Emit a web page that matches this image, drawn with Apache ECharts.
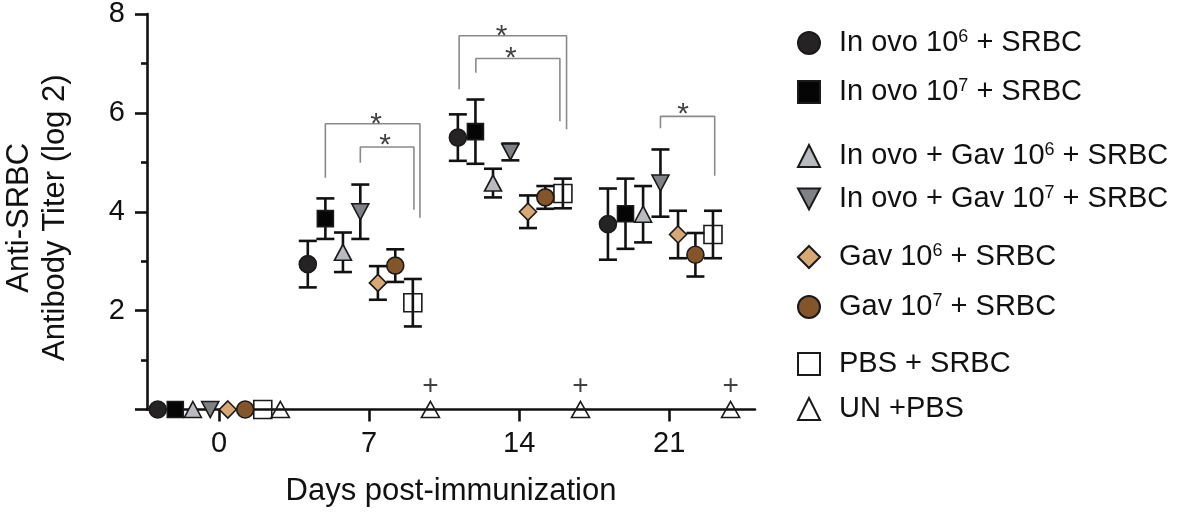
<!DOCTYPE html>
<html>
<head>
<meta charset="utf-8">
<script src="https://cdn.jsdelivr.net/npm/echarts@6/dist/echarts.min.js"></script>
<style>
html,body{margin:0;padding:0;background:#fff;}
#chart{width:1181px;height:519px;}
</style>
</head>
<body>
<div id="chart"></div>
<script>
// ---------- data ----------
const days = [0, 7, 14, 21];
const xTickValues = [0, 7, 14, 21];
const groupNames = [
  'In ovo 10^6 + SRBC',
  'In ovo 10^7 + SRBC',
  'In ovo + Gav 10^6 + SRBC',
  'In ovo + Gav 10^7 + SRBC',
  'Gav 10^6 + SRBC',
  'Gav 10^7 + SRBC',
  'PBS + SRBC',
  'UN +PBS'
];
const inOvo6Mean    = [0, 2.94, 5.50, 3.75];
const inOvo6Err     = [0, 0.47, 0.47, 0.72];
const inOvo7Mean    = [0, 3.86, 5.62, 3.96];
const inOvo7Err     = [0, 0.41, 0.65, 0.71];
const inOvoGav6Mean = [0, 3.18, 4.58, 3.95];
const inOvoGav6Err  = [0, 0.40, 0.29, 0.57];
const inOvoGav7Mean = [0, 4.00, 5.21, 4.58];
const inOvoGav7Err  = [0, 0.55, 0.17, 0.68];
const gav6Mean      = [0, 2.56, 4.00, 3.54];
const gav6Err       = [0, 0.34, 0.33, 0.48];
const gav7Mean      = [0, 2.91, 4.29, 3.13];
const gav7Err       = [0, 0.33, 0.23, 0.44];
const pbsMean       = [0, 2.16, 4.37, 3.54];
const pbsErr        = [0, 0.48, 0.30, 0.48];
const unMean        = [0, 0, 0, 0];
const unErr         = [0, 0, 0, 0];

// significance brackets [day, titer]
const bracket7Outer  = [[4.96, 4.69], [4.96, 5.78], [9.37, 5.78], [9.37, 3.88]];
const bracket7Inner  = [[6.59, 4.99], [6.59, 5.31], [9.09, 5.31], [9.09, 4.04]];
const bracket14Outer = [[11.2, 6.48], [11.2, 7.56], [16.21, 7.56], [16.21, 5.67]];
const bracket14Inner = [[11.98, 6.81], [11.98, 7.10], [15.9, 7.10], [15.9, 5.83]];
const bracket21      = [[20.59, 5.69], [20.59, 5.93], [23.12, 5.93], [23.12, 4.73]];
const asteriskPoints = [[7.32, 5.90], [7.74, 5.48], [13.18, 7.68], [13.61, 7.24], [21.65, 6.10]];
const plusDays = [7, 14, 21];
const plusTiter = 0.46;

// ---------- styling ----------
const means = [inOvo6Mean, inOvo7Mean, inOvoGav6Mean, inOvoGav7Mean, gav6Mean, gav7Mean, pbsMean, unMean];
const errs  = [inOvo6Err, inOvo7Err, inOvoGav6Err, inOvoGav7Err, gav6Err, gav7Err, pbsErr, unErr];
const dodge = [-2.86, -2.04, -1.22, -0.41, 0.41, 1.22, 2.04, 2.86];
const INV_TRI = 'path://M0,0 L20,0 L10,19 Z';
const styles = [
  {symbol: 'circle',   size: 17,       fill: '#262324'},
  {symbol: 'rect',     size: 16,       fill: '#050505'},
  {symbol: 'triangle', size: [17, 16], fill: '#b9bbbe'},
  {symbol: INV_TRI,    size: [17, 16], fill: '#7f8184'},
  {symbol: 'diamond',  size: 17,       fill: '#d7a874'},
  {symbol: 'circle',   size: 17,       fill: '#85552a'},
  {symbol: 'rect',     size: 18,       fill: 'rgba(255,255,255,0)'},
  {symbol: 'triangle', size: [18, 16], fill: 'rgba(255,255,255,0)'}
];
const legendCenters = [43, 92, 156, 199, 257, 307, 364, 409];
const FONT = '"Liberation Sans", Arial, Helvetica, sans-serif';
const INK = '#111';

// error bar data
const errData = [];
means.forEach((m, g) => {
  m.forEach((v, i) => {
    if (errs[g][i] > 0) errData.push([days[i] + dodge[g], v - errs[g][i], v + errs[g][i]]);
  });
});

function renderErr(params, api) {
  const x = api.value(0);
  const top = api.coord([x, api.value(2)]);
  const bot = api.coord([x, api.value(1)]);
  const hw = 9;
  const st = {stroke: INK, lineWidth: 2.6};
  return {type: 'group', children: [
    {type: 'line', shape: {x1: top[0], y1: top[1], x2: bot[0], y2: bot[1]}, style: st},
    {type: 'line', shape: {x1: top[0] - hw, y1: top[1], x2: top[0] + hw, y2: top[1]}, style: st},
    {type: 'line', shape: {x1: bot[0] - hw, y1: bot[1], x2: bot[0] + hw, y2: bot[1]}, style: st}
  ]};
}

const series = [];
series.push({type: 'custom', name: 'err', renderItem: renderErr, data: errData, z: 2, silent: true,
  encode: {x: 0, y: [1, 2]}});
[bracket7Outer, bracket7Inner, bracket14Outer, bracket14Inner, bracket21].forEach((b, k) => {
  series.push({type: 'line', name: 'br' + k, data: b, symbol: 'none', silent: true, z: 1,
    lineStyle: {color: '#8a8a8a', width: 1.6}, animation: false});
});
groupNames.forEach((n, g) => {
  const s = styles[g];
  series.push({
    type: 'scatter', name: n, z: 3,
    data: days.map((d, i) => [d + dodge[g], means[g][i]]),
    symbol: s.symbol, symbolSize: s.size,
    itemStyle: {color: s.fill, borderColor: '#1a1a1a', borderWidth: 1.6, opacity: 1}
  });
});
series.push({type: 'scatter', name: 'ast', data: asteriskPoints, symbolSize: 1, silent: true, z: 4,
  itemStyle: {color: 'rgba(0,0,0,0)'},
  label: {show: true, formatter: '*', position: 'inside', fontSize: 30, fontFamily: FONT, color: INK, offset: [0, 7]}});
series.push({type: 'scatter', name: 'plus', data: plusDays.map(d => [d + dodge[7], plusTiter]), symbolSize: 1, silent: true, z: 4,
  itemStyle: {color: 'rgba(0,0,0,0)'},
  label: {show: true, formatter: '+', position: 'inside', fontSize: 28, fontFamily: FONT, color: INK}});

const legends = groupNames.map((n, g) => ({
  data: [n], left: 797, top: legendCenters[g] - 17, padding: 0,
  itemWidth: 22, itemHeight: 22, selectedMode: false,
  formatter: name => name.replace(/\^(\d)/, '{s|$1}'),
  textStyle: {fontSize: 29, fontFamily: FONT, color: INK, lineHeight: 34, padding: [0, 0, 0, 14],
    rich: {s: {fontSize: 18, fontFamily: FONT, color: INK, padding: [0, 0, 12, 0]}}}
}));

const chart = echarts.init(document.getElementById('chart'));
chart.setOption({
  animation: false,
  grid: {left: 147, right: 426, top: 14, bottom: 109.5, containLabel: false, outerBoundsMode: 'none'},
  legend: legends,
  xAxis: {
    type: 'value', min: -3.36, max: 25,
    name: 'Days post-immunization', nameLocation: 'middle', nameGap: 66,
    nameTextStyle: {fontSize: 31, fontFamily: FONT, color: INK},
    axisLine: {show: true, onZero: false, lineStyle: {color: INK, width: 2.6}},
    axisTick: {show: true, length: 12, customValues: xTickValues, lineStyle: {color: INK, width: 2.6}},
    axisLabel: {customValues: xTickValues, fontSize: 29, fontFamily: FONT, color: INK, margin: 20},
    splitLine: {show: false}
  },
  yAxis: {
    type: 'value', min: 0, max: 8, interval: 2,
    name: 'Anti-SRBC\nAntibody Titer (log 2)', nameLocation: 'middle', nameGap: 74,
    nameTextStyle: {fontSize: 31, fontFamily: FONT, color: INK, lineHeight: 36, padding: [0, 12, 0, 0]},
    axisLine: {show: true, onZero: false, lineStyle: {color: INK, width: 2.6}},
    axisTick: {show: true, length: 12, lineStyle: {color: INK, width: 2.6}},
    minorTick: {show: true, splitNumber: 2, length: 6, lineStyle: {color: INK, width: 2.6}},
    axisLabel: {fontSize: 29, fontFamily: FONT, color: INK, margin: 22, formatter: v => v === 0 ? '' : String(v)},
    splitLine: {show: false}
  },
  series: series
});
</script>
</body>
</html>
